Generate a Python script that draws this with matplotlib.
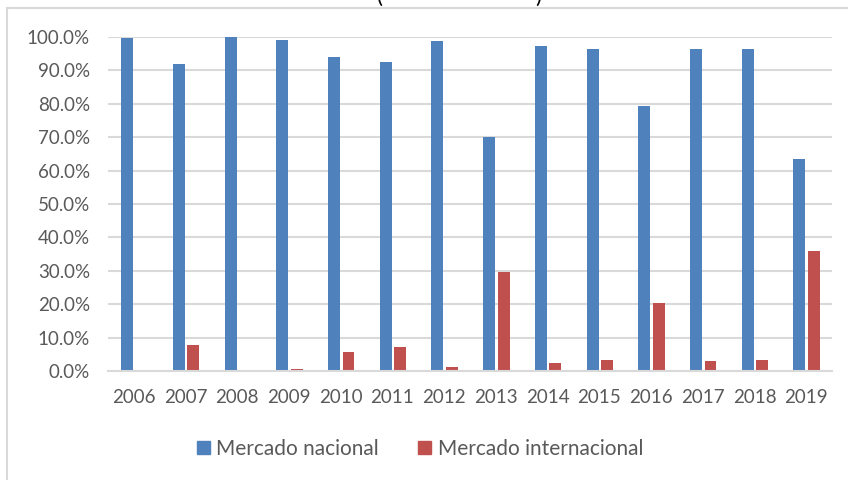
import numpy as np
import matplotlib.pyplot as plt
from matplotlib.patches import Rectangle, Patch

plt.rcParams['font.family'] = ['Lato', 'DejaVu Sans']

# data (share of sales, %)
years = ['2006', '2007', '2008', '2009', '2010', '2011', '2012',
         '2013', '2014', '2015', '2016', '2017', '2018', '2019']
nacional = [99.7, 92.0, 99.9, 99.0, 94.1, 92.5, 98.7,
            70.2, 97.3, 96.3, 79.4, 96.5, 96.3, 63.6]
internacional = [0.3, 7.9, 0.1, 0.6, 5.7, 7.1, 1.2,
                  29.5, 2.5, 3.4, 20.4, 3.0, 3.4, 36.0]
labels = ['Mercado nacional', 'Mercado internacional']

blue = '#4F81BD'
red = '#C0504D'
grid = '#D9D9D9'
txt = '#595959'

fig = plt.figure(figsize=(8.48, 4.8), dpi=100)
ax = fig.add_axes([108 / 848, 1 - 371 / 480, (832 - 108) / 848, (371 - 37) / 480])

x = np.arange(len(years))
w = 0.23
ax.bar(x - 0.13, np.array(nacional) / 100, width=w, color=blue, zorder=3)
ax.bar(x + 0.15, np.array(internacional) / 100, width=w, color=red, zorder=3)

ax.set_xlim(-0.5, len(years) - 0.5)
ax.set_ylim(0, 1.0)
ax.set_yticks(np.arange(0, 1.01, 0.1))
ax.set_yticklabels([f'{v * 100:.1f}%' for v in np.arange(0, 1.01, 0.1)])
ax.set_xticks(x)
ax.set_xticklabels(years)
ax.tick_params(length=0, labelsize=13.5, colors=txt)
ax.tick_params(axis='x', pad=13)
ax.tick_params(axis='y', pad=13)

ax.yaxis.grid(True, color=grid, lw=1.5, zorder=0)
for s in ['top', 'right', 'left']:
    ax.spines[s].set_visible(False)
ax.spines['bottom'].set_color(grid)
ax.spines['bottom'].set_linewidth(1.5)
ax.spines['bottom'].set_zorder(4)

# chart area border (partly outside the crop)
fig.patches.append(Rectangle((7 / 848, -0.2), 1.2, 1.2 - 8 / 480,
                             transform=fig.transFigure, fill=False,
                             edgecolor=grid, lw=1.5))

# title cut off at the top, only the bracket tails show
fig.text(380 / 848, 1 - 3 / 480, '(', fontsize=16, color='black', ha='center', va='baseline')
fig.text(538 / 848, 1 - 3 / 480, ')', fontsize=16, color='black', ha='center', va='baseline')

handles = [Patch(color=blue), Patch(color=red)]
fig.legend(handles, labels, loc='center', bbox_to_anchor=(420 / 848, 1 - 449 / 480),
           ncol=2, frameon=False, fontsize=15, labelcolor=txt,
           handlelength=0.62, handleheight=0.62, handletextpad=0.3, columnspacing=1.9)

fig.savefig('out.png', dpi=100)
